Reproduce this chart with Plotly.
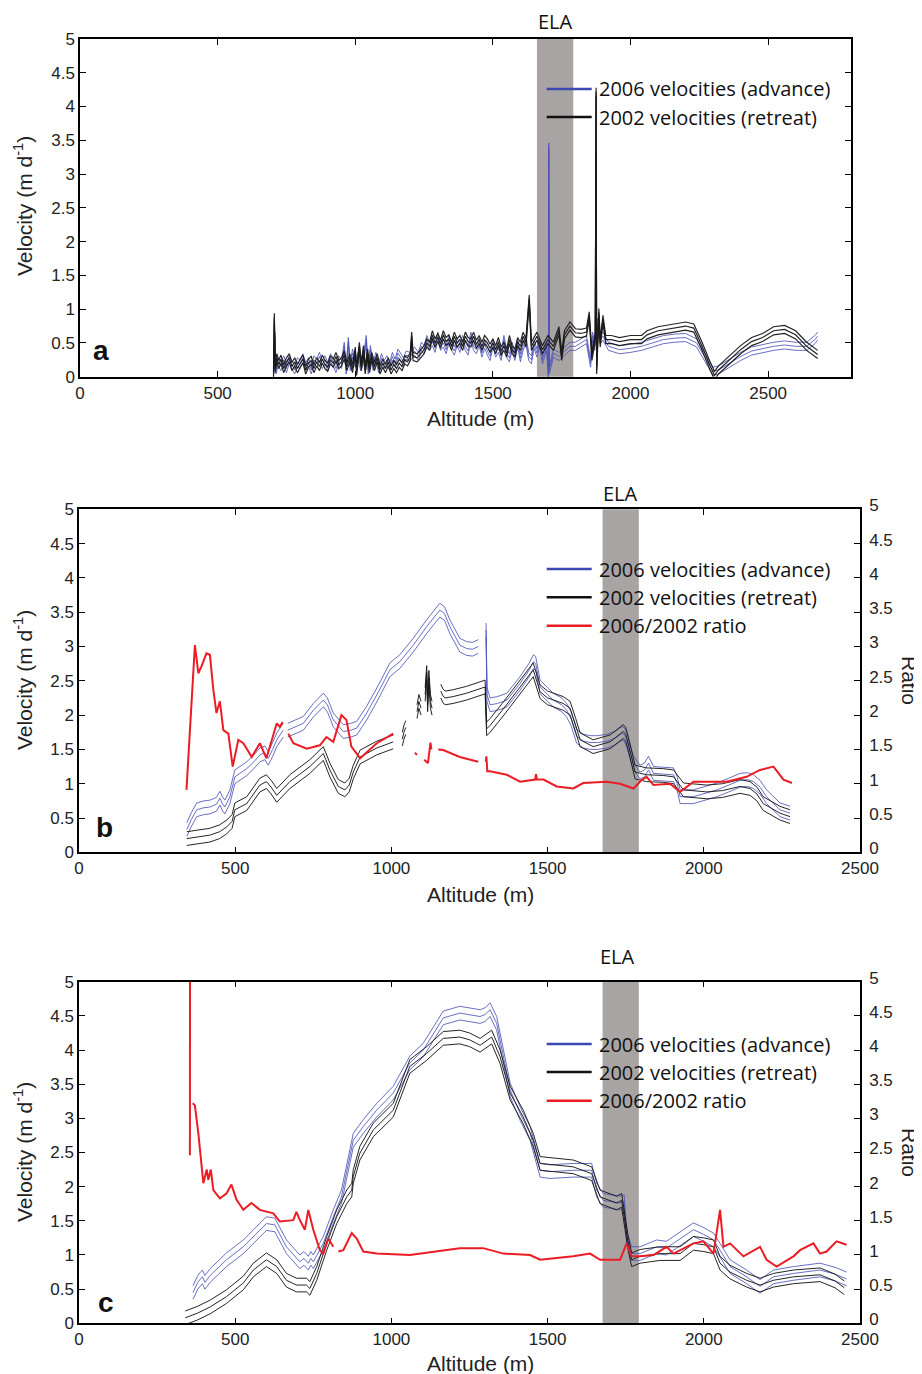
import plotly.graph_objects as go

# The page body adds an 8px margin, so the figure is drawn 8px smaller and every
# pixel position below (measured on the 922x1374 page) is shifted by that offset.
PAGE_W, PAGE_H = 922, 1374
OFF = 8
W, H = PAGE_W - OFF, PAGE_H - OFF

# ---------------- Panel a (altitude, velocity) ----------------
pts_a_2006 = [(703, 0.05), (708, 0.60), (712, 0.10), (720, 0.22), (730, 0.15), (740, 0.25), (750, 0.12), (760, 0.25),
              (770, 0.18), (780, 0.10), (790, 0.22), (800, 0.18), (810, 0.28), (820, 0.15), (830, 0.22), (840, 0.10),
              (850, 0.25), (860, 0.20), (870, 0.30), (880, 0.18), (890, 0.25), (900, 0.15), (910, 0.28), (920, 0.22),
              (930, 0.12), (940, 0.25), (950, 0.18), (960, 0.45), (967, 0.10), (975, 0.52), (982, 0.15), (990, 0.35),
              (1000, 0.20), (1010, 0.30), (1020, 0.15), (1030, 0.25), (1040, 0.55), (1047, 0.10), (1055, 0.40),
              (1065, 0.15), (1075, 0.30), (1085, 0.12), (1095, 0.28), (1105, 0.18), (1115, 0.25), (1125, 0.15),
              (1135, 0.30), (1145, 0.20), (1155, 0.35), (1165, 0.28), (1175, 0.22), (1185, 0.32), (1200, 0.30),
              (1215, 0.38), (1230, 0.30), (1240, 0.45), (1250, 0.40), (1260, 0.55), (1270, 0.45), (1280, 0.52),
              (1290, 0.42), (1300, 0.60), (1310, 0.45), (1320, 0.50), (1330, 0.40), (1340, 0.55), (1350, 0.45),
              (1360, 0.38), (1370, 0.52), (1380, 0.42), (1390, 0.55), (1400, 0.45), (1410, 0.38), (1420, 0.60),
              (1430, 0.45), (1440, 0.40), (1450, 0.52), (1460, 0.35), (1470, 0.48), (1480, 0.38), (1490, 0.30),
              (1500, 0.50), (1510, 0.35), (1520, 0.42), (1530, 0.30), (1540, 0.55), (1550, 0.35), (1560, 0.28),
              (1570, 0.45), (1580, 0.30), (1590, 0.50), (1600, 0.28), (1610, 0.45), (1620, 0.55), (1630, 0.30),
              (1640, 0.25), (1650, 0.48), (1660, 0.35), (1670, 0.50), (1680, 0.25), (1690, 0.40), (1695, 0.45),
              (1702, 0.02), (1703, 3.40), (1705, 0.10), (1720, 0.35), (1740, 0.30), (1760, 0.38), (1780, 0.45),
              (1800, 0.45), (1820, 0.50), (1840, 0.55), (1855, 0.20), (1862, 0.60), (1870, 0.45), (1880, 0.80),
              (1890, 0.55), (1900, 0.60), (1920, 0.45), (1960, 0.40), (2000, 0.42), (2040, 0.45), (2080, 0.50),
              (2120, 0.55), (2160, 0.57), (2200, 0.58), (2240, 0.50), (2270, 0.30), (2300, 0.08), (2320, 0.10),
              (2360, 0.20), (2400, 0.30), (2440, 0.38), (2480, 0.42), (2520, 0.45), (2560, 0.47), (2600, 0.45),
              (2640, 0.45), (2670, 0.55), (2680, 0.60)]
pts_a_2002 = [(703, 0.05), (706, 0.88), (709, 0.12), (715, 0.28), (722, 0.18), (730, 0.26), (740, 0.12), (750, 0.22),
              (760, 0.28), (770, 0.15), (780, 0.22), (790, 0.12), (800, 0.20), (810, 0.26), (820, 0.10), (830, 0.20),
              (840, 0.24), (850, 0.12), (860, 0.22), (870, 0.15), (880, 0.26), (890, 0.18), (900, 0.14), (910, 0.25),
              (920, 0.20), (930, 0.30), (940, 0.18), (950, 0.22), (960, 0.32), (970, 0.15), (980, 0.28), (990, 0.12),
              (1000, 0.38), (1005, 0.08), (1015, 0.45), (1022, 0.15), (1030, 0.40), (1036, 0.10), (1045, 0.35),
              (1052, 0.12), (1060, 0.30), (1070, 0.15), (1080, 0.28), (1090, 0.10), (1100, 0.20), (1110, 0.12),
              (1120, 0.22), (1130, 0.10), (1140, 0.18), (1150, 0.12), (1160, 0.20), (1170, 0.15), (1180, 0.25),
              (1190, 0.22), (1200, 0.30), (1205, 0.60), (1210, 0.30), (1225, 0.28), (1240, 0.35), (1250, 0.40),
              (1260, 0.50), (1270, 0.45), (1280, 0.62), (1290, 0.50), (1300, 0.58), (1310, 0.48), (1320, 0.62),
              (1330, 0.52), (1340, 0.56), (1350, 0.45), (1360, 0.60), (1370, 0.50), (1380, 0.55), (1390, 0.45),
              (1400, 0.60), (1410, 0.52), (1420, 0.50), (1430, 0.60), (1440, 0.48), (1450, 0.55), (1460, 0.45),
              (1470, 0.55), (1480, 0.50), (1490, 0.42), (1500, 0.50), (1510, 0.40), (1520, 0.52), (1530, 0.38),
              (1540, 0.45), (1550, 0.35), (1560, 0.55), (1570, 0.40), (1580, 0.35), (1590, 0.52), (1600, 0.45),
              (1610, 0.60), (1620, 0.50), (1632, 1.15), (1640, 0.45), (1660, 0.60), (1680, 0.40), (1700, 0.55),
              (1720, 0.45), (1740, 0.68), (1750, 0.30), (1760, 0.62), (1780, 0.75), (1800, 0.65), (1820, 0.64),
              (1840, 0.66), (1850, 0.90), (1860, 0.30), (1872, 0.60), (1875, 4.22), (1877, 0.10), (1885, 0.95),
              (1890, 0.50), (1900, 0.85), (1910, 0.55), (1930, 0.55), (1960, 0.52), (2000, 0.55), (2040, 0.55),
              (2060, 0.62), (2100, 0.68), (2150, 0.72), (2200, 0.75), (2230, 0.72), (2260, 0.45), (2290, 0.15),
              (2305, 0.02), (2320, 0.10), (2360, 0.25), (2400, 0.40), (2440, 0.52), (2460, 0.55), (2480, 0.58),
              (2520, 0.68), (2560, 0.70), (2600, 0.62), (2640, 0.45), (2680, 0.33)]
alt_a_2006 = [p[0] for p in pts_a_2006]
vel_a_2006 = [p[1] for p in pts_a_2006]
alt_a_2002 = [p[0] for p in pts_a_2002]
vel_a_2002 = [p[1] for p in pts_a_2002]
ERR_A = 0.06

# ---------------- Panel b ----------------
alt_b_2006 = [345, 360, 377, 400, 419, 440, 451, 460, 467, 483, 499, 520, 537, 560, 579, 595, 606, 620, 633, 654,
              None, 668, 690, 718, 750, 770, 782, 795, 814, 846, 870, 889, 921, 960, 995, 1027, 1070, 1113, 1140, 1155,
              1170, 1187, 1219, 1241, 1260, 1278, None, 1303, 1306, 1316, 1340, 1370, 1410, 1440, 1455, 1462, 1476, 1500, 1518, 1545,
              1561, 1575, 1593, 1615, 1636, 1660, 1689, 1715, 1737, 1745, 1753, 1765, 1775, 1796, 1810, 1823, 1839, 1870, 1903, 1915,
              1924, 1967, 2000, 2042, 2080, 2116, 2140, 2159, 2180, 2201, 2244, 2276]
vel_b_2006 = [0.33, 0.48, 0.62, 0.65, 0.66, 0.70, 0.79, 0.70, 0.66, 0.81, 1.10, 1.16, 1.22, 1.32, 1.42, 1.45, 1.37, 1.50, 1.64, 1.78,
              None, 1.78, 1.82, 1.88, 2.07, 2.17, 2.22, 2.15, 1.93, 1.76, 1.78, 1.81, 2.03, 2.35, 2.66, 2.78, 3.02, 3.29, 3.45, 3.53,
              3.48, 3.29, 3.02, 2.97, 2.96, 3.00, None, 3.24, 2.30, 2.15, 2.17, 2.22, 2.45, 2.65, 2.78, 2.75, 2.41, 2.30, 2.22, 2.15,
              2.07, 1.95, 1.69, 1.62, 1.60, 1.60, 1.62, 1.66, 1.73, 1.72, 1.64, 1.45, 1.30, 1.17, 1.20, 1.30, 1.15, 1.14, 1.13, 1.00,
              0.81, 0.81, 0.85, 0.91, 0.98, 1.05, 1.06, 1.03, 0.95, 0.81, 0.62, 0.57]
alt_b_2002 = [345, 380, 419, 450, 473, 490, 499, 537, 560, 579, 600, 615, 633, 675, 739, 770, 782, 790, 803, 830,
              851, 865, 878, 900, 953, 1006, None, 1035, 1040, 1046, None, 1082, 1088, 1095, None, 1108, 1113, 1116, 1120, 1125,
              1130, None, 1158, 1165, 1172, 1198, 1241, 1270, 1300, 1305, 1316, 1360, 1410, 1454, 1476, 1500, 1550, 1572, 1590, 1604,
              1646, 1700, 1742, 1750, 1758, 1780, 1817, 1870, 1903, 1935, 2010, 2060, 2116, 2148, 2170, 2190, 2244, 2276]
vel_b_2002 = [0.20, 0.22, 0.25, 0.30, 0.37, 0.45, 0.62, 0.71, 0.85, 0.98, 1.03, 0.95, 0.83, 1.03, 1.25, 1.38, 1.44, 1.35, 1.20, 0.96,
              0.91, 0.98, 1.17, 1.39, 1.52, 1.61, None, 1.65, 1.75, 1.82, None, 2.05, 2.20, 2.10, None, 2.30, 2.62, 2.15, 2.55, 2.20,
              2.10, None, 2.35, 2.28, 2.25, 2.27, 2.32, 2.36, 2.41, 1.80, 1.85, 2.10, 2.40, 2.66, 2.34, 2.25, 2.17, 2.10, 1.85, 1.64,
              1.54, 1.61, 1.76, 1.72, 1.59, 1.17, 1.13, 1.12, 1.10, 0.91, 0.88, 0.90, 0.96, 0.93, 0.85, 0.71, 0.57, 0.52]
alt_b_ratio = [344, 371, 382, 392, 408, 419, 430, 440, 451, 462, 478, 492, 510, 526, 553, 579, 600, 633, 643, 652,
               None, 670, 686, 729, 771, 792, 814, 840, 856, 872, 900, 953, 1006, None, 1075, 1082, None, 1105, 1117, 1125,
               1128, None, 1150, 1166, 1219, 1278, None, 1302, 1304, 1307, 1316, 1369, 1412, 1460, 1463, 1466, 1487, 1529, 1582, 1614,
               1689, 1732, 1775, 1800, 1817, 1839, 1892, 1924, 1967, 2073, 2137, 2180, 2223, 2255, 2282]
rat_b = [0.91, 3.02, 2.61, 2.71, 2.90, 2.88, 2.37, 2.03, 2.20, 1.78, 1.73, 1.25, 1.64, 1.59, 1.39, 1.59, 1.37, 1.88, 1.83, 1.90,
         None, 1.73, 1.59, 1.51, 1.56, 1.68, 1.61, 2.00, 1.93, 1.54, 1.37, 1.59, 1.73, None, 1.45, 1.42, None, 1.35, 1.30, 1.60,
         1.50, None, 1.50, 1.49, 1.39, 1.32, None, 1.32, 1.40, 1.18, 1.18, 1.13, 1.03, 1.06, 1.14, 1.06, 1.06, 0.96, 0.93, 1.01,
         1.03, 1.00, 0.93, 1.05, 1.10, 0.98, 1.00, 0.88, 1.03, 1.03, 1.10, 1.20, 1.25, 1.06, 1.01]
ERR_B = 0.10

# ---------------- Panel c ----------------
alt_c_2006 = [365, 380, 395, 403, 420, 472, 526, 560, 600, 627, 664, 707, 720, 734, 742, 750, 782, 814, 840, 856,
              878, 910, 953, 1006, 1059, 1102, 1166, 1219, 1284, 1300, 1316, 1337, 1358, 1380, 1412, 1444, 1476, 1508, 1582, 1641,
              1657, 1678, 1732, 1745, 1753, 1769, 1796, 1849, 1880, 1903, 1967, 2000, 2031, 2052, 2084, 2137, 2180, 2223, 2287, 2372,
              2420, 2457]
vel_c_2006 = [0.45, 0.60, 0.68, 0.60, 0.70, 0.93, 1.12, 1.28, 1.46, 1.44, 1.12, 0.90, 0.95, 0.88, 0.95, 0.90, 1.17, 1.56, 1.85, 2.20,
              2.68, 2.88, 3.12, 3.37, 3.81, 4.00, 4.47, 4.54, 4.49, 4.52, 4.59, 4.39, 3.90, 3.42, 3.07, 2.78, 2.24, 2.22, 2.24, 2.24,
              1.95, 1.80, 1.76, 1.78, 1.26, 1.02, 1.02, 1.12, 1.10, 1.17, 1.37, 1.30, 1.22, 1.07, 0.83, 0.68, 0.54, 0.68, 0.73, 0.78,
              0.72, 0.65]
alt_c_2002 = [340, 380, 420, 472, 526, 558, 600, 633, 664, 696, 728, 739, 761, 793, 825, 857, 873, 878, 899, 942,
              1006, 1059, 1113, 1166, 1219, 1250, 1284, 1321, 1348, 1380, 1422, 1454, 1476, 1520, 1582, 1641, 1668, 1721, 1737, 1758,
              1769, 1796, 1860, 1924, 1967, 2000, 2031, 2052, 2084, 2137, 2180, 2223, 2287, 2372, 2420, 2450]
vel_c_2002 = [0.08, 0.15, 0.24, 0.39, 0.59, 0.78, 0.93, 0.83, 0.63, 0.56, 0.56, 0.51, 0.73, 1.17, 1.56, 1.85, 1.95, 2.15, 2.49, 2.83,
              3.12, 3.76, 3.95, 4.17, 4.19, 4.15, 4.07, 4.19, 3.90, 3.37, 3.02, 2.68, 2.34, 2.32, 2.29, 2.19, 1.85, 1.76, 1.80, 1.17,
              0.93, 0.98, 1.02, 1.02, 1.17, 1.15, 1.12, 0.88, 0.75, 0.63, 0.56, 0.63, 0.68, 0.71, 0.62, 0.52]
alt_c_ratio = [355, 355.5, None, 364, 371, 382, 392, 398, 409, 414, 422, 430, 451, 472, 488, 504, 526, 552, 579, 622,
               643, 686, 696, 707, 723, 734, 750, 771, 782, 798, 814, None, 830, 846, 873, 889, 910, 953, 1059, 1145,
               1219, 1294, 1358, 1444, 1476, 1582, 1636, 1668, 1732, 1753, 1769, 1796, 1839, 1881, 1903, 1967, 1999, 2031, 2052, 2063,
               2084, 2127, 2159, 2180, 2201, 2233, 2287, 2308, 2351, 2372, 2393, 2425, 2457]
rat_c = [2.46, 6.00, None, 3.22, 3.19, 2.78, 2.34, 2.05, 2.25, 2.10, 2.25, 1.95, 1.83, 1.90, 2.03, 1.81, 1.66, 1.76, 1.66, 1.61,
         1.49, 1.51, 1.63, 1.51, 1.37, 1.66, 1.37, 1.07, 1.02, 1.24, 1.12, None, 1.05, 1.07, 1.32, 1.24, 1.05, 1.02, 1.00, 1.05,
         1.10, 1.10, 1.02, 1.00, 0.93, 0.98, 1.02, 0.93, 0.93, 1.17, 0.98, 0.98, 1.00, 1.12, 1.02, 1.17, 1.20, 1.02, 1.66, 1.12,
         1.17, 0.98, 1.07, 1.12, 0.93, 0.83, 0.98, 1.07, 1.17, 1.02, 1.05, 1.20, 1.15]
ERR_C = 0.10

ELA_RANGE_A = [1660, 1792]
ELA_RANGE_BC = [1676, 1792]
legend_labels = ["2006 velocities (advance)", "2002 velocities (retreat)", "2006/2002 ratio"]

for a, b in [(alt_b_2006, vel_b_2006), (alt_b_2002, vel_b_2002), (alt_b_ratio, rat_b),
             (alt_c_2006, vel_c_2006), (alt_c_2002, vel_c_2002), (alt_c_ratio, rat_c)]:
    assert len(a) == len(b), (len(a), len(b))

BLUE = "rgba(80,85,185,0.85)"
BLACK = "rgba(25,25,25,0.95)"
RED = "rgb(236,28,36)"

fig = go.Figure()


def shift(vals, d):
    return [None if v is None else v + d for v in vals]


def add_band(x, y, err, color, xa, ya, width=1.0):
    for d in (err, 0.0, -err):
        fig.add_trace(go.Scatter(x=x, y=shift(y, d), mode="lines", line=dict(color=color, width=width),
                                 xaxis=xa, yaxis=ya, showlegend=False, hoverinfo="skip", connectgaps=False))


# panel a
add_band(alt_a_2006, vel_a_2006, ERR_A, BLUE, "x", "y", 1.0)
add_band(alt_a_2002, vel_a_2002, ERR_A, BLACK, "x", "y", 1.2)
# panel b
add_band(alt_b_2006, vel_b_2006, ERR_B, BLUE, "x2", "y2", 1.0)
add_band(alt_b_2002, vel_b_2002, ERR_B, BLACK, "x2", "y2", 1.0)
fig.add_trace(go.Scatter(x=alt_b_ratio, y=rat_b, mode="lines", line=dict(color=RED, width=2.0),
                         xaxis="x2", yaxis="y3", showlegend=False, hoverinfo="skip"))
# panel c
add_band(alt_c_2006, vel_c_2006, ERR_C, BLUE, "x3", "y4", 1.0)
add_band(alt_c_2002, vel_c_2002, ERR_C, BLACK, "x3", "y4", 1.0)
fig.add_trace(go.Scatter(x=alt_c_ratio, y=rat_c, mode="lines", line=dict(color=RED, width=2.0),
                         xaxis="x3", yaxis="y5", showlegend=False, hoverinfo="skip"))


def px(x):
    return (x - OFF) / W


def py(y):
    return 1 - (y - OFF) / H


TICKFONT = dict(family="Liberation Sans, Arial, sans-serif", size=17, color="#222")
common = dict(showline=True, linecolor="black", linewidth=1.5, ticks="inside", ticklen=6, tickwidth=1,
              tickcolor="black", showgrid=False, zeroline=False, tickfont=TICKFONT, fixedrange=True,
              automargin=False)
right_extra = dict(ticklabelshift=-4, ticklabelstandoff=4)

# plot-area pixel boxes on the page (left, right, top, bottom)
box_a = (80, 850.7, 39, 376.7)
box_b = (79, 860, 509.3, 852.3)
box_c = (79, 860, 981.7, 1323.3)


def dom_x(b):
    return [px(b[0]), px(b[1])]


def dom_y(b):
    return [py(b[3]), py(b[2])]


fig.update_layout(
    template="none",
    width=W, height=H, margin=dict(l=0, r=0, t=0, b=0, pad=0), autosize=False,
    paper_bgcolor="white", plot_bgcolor="white", showlegend=False,
    xaxis=dict(domain=dom_x(box_a), anchor="y", range=[0, 2800], dtick=500, mirror="ticks", **common),
    yaxis=dict(domain=dom_y(box_a), anchor="x", range=[0, 5], dtick=0.5, mirror="ticks", **common),
    xaxis2=dict(domain=dom_x(box_b), anchor="y2", range=[0, 2500], dtick=500, mirror="ticks", **common),
    yaxis2=dict(domain=dom_y(box_b), anchor="x2", range=[0, 5], dtick=0.5, mirror=True, **common),
    yaxis3=dict(overlaying="y2", anchor="x2", side="right", range=[0, 5], dtick=0.5, **common, **right_extra),
    xaxis3=dict(domain=dom_x(box_c), anchor="y4", range=[0, 2500], dtick=500, mirror="ticks", **common),
    yaxis4=dict(domain=dom_y(box_c), anchor="x3", range=[0, 5], dtick=0.5, mirror=True, **common),
    yaxis5=dict(overlaying="y4", anchor="x3", side="right", range=[0, 5], dtick=0.5, **common, **right_extra),
)

shapes = []
# ELA bands
for xa, ya, rng in [("x", "y", ELA_RANGE_A), ("x2", "y2", ELA_RANGE_BC), ("x3", "y4", ELA_RANGE_BC)]:
    shapes.append(dict(type="rect", xref=xa, yref=ya + " domain", x0=rng[0], x1=rng[1], y0=0, y1=1,
                       fillcolor="#a8a4a4", line=dict(width=0), layer="below"))

ann = []
LEGFONT = dict(family="Open Sans, Noto Sans, sans-serif", size=20, color="#111")
TITLEFONT = dict(family="Liberation Sans, Arial, sans-serif", size=21, color="#222")
leg_colors = ["rgb(60,72,178)", "#111", RED]


def legend(rows_y, n):
    for i in range(n):
        shapes.append(dict(type="line", xref="paper", yref="paper", x0=px(546.7), x1=px(591.7),
                           y0=py(rows_y[i]), y1=py(rows_y[i]), line=dict(color=leg_colors[i], width=2.4)))
        ann.append(dict(text=legend_labels[i], xref="paper", yref="paper", x=px(597), y=py(rows_y[i]),
                        xanchor="left", yanchor="middle", showarrow=False, font=LEGFONT))


legend([89, 117], 2)
legend([569, 597.3, 625.7], 3)
legend([1044, 1072, 1100.7], 3)

# ELA labels
for x, y in [(555, 21), (620, 493), (617, 956)]:
    ann.append(dict(text="ELA", xref="paper", yref="paper", x=px(x), y=py(y), xanchor="center",
                    yanchor="middle", showarrow=False, font=LEGFONT))

# Axis titles
for yc in [418, 895, 1363]:
    ann.append(dict(text="Altitude (m)", xref="paper", yref="paper", x=px(480), y=py(yc), xanchor="center",
                    yanchor="middle", showarrow=False, font=TITLEFONT))
for yc in [206, 680, 1152]:
    ann.append(dict(text="Velocity (m d<sup>-1</sup>)", xref="paper", yref="paper", x=px(23), y=py(yc),
                    xanchor="center", yanchor="middle", textangle=-90, showarrow=False, font=TITLEFONT))
for yc in [680, 1152]:
    ann.append(dict(text="Ratio", xref="paper", yref="paper", x=px(910), y=py(yc),
                    xanchor="center", yanchor="middle", textangle=90, showarrow=False, font=TITLEFONT))

# Panel letters
for letter, x, y in [("a", 101, 350), ("b", 104, 827), ("c", 106, 1302)]:
    ann.append(dict(text="<b>%s</b>" % letter, xref="paper", yref="paper", x=px(x), y=py(y), xanchor="center",
                    yanchor="middle", showarrow=False,
                    font=dict(family="Liberation Sans, Arial, sans-serif", size=28, color="#111")))

fig.update_layout(shapes=shapes, annotations=ann)
fig.write_html("out.html")
